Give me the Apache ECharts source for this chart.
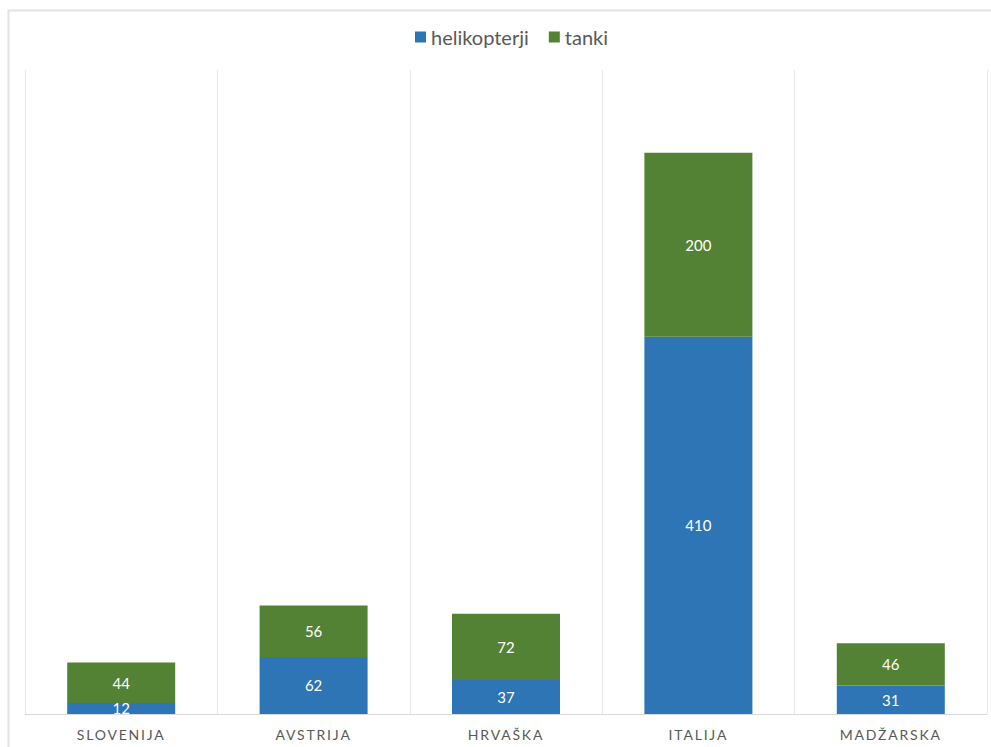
<!DOCTYPE html>
<html><head><meta charset="utf-8">
<script src="https://cdn.jsdelivr.net/npm/echarts@6/dist/echarts.min.js"></script>
<style>
html,body{margin:0;padding:0;background:#fff;}
#c{width:991px;height:747px;}
#c text[fill="#595958"], #c text[fill="rgb(89,89,88)"]{letter-spacing:1.8px;}
</style>
</head><body><div id="c"></div>
<script>
const categories = ['SLOVENIJA', 'AVSTRIJA', 'HRVAŠKA', 'ITALIJA', 'MADŽARSKA'];
const helikopterji = [12, 62, 37, 410, 31];
const tanki = [44, 56, 72, 200, 46];
const seriesNames = ['helikopterji', 'tanki'];

const chart = echarts.init(document.getElementById('c'), null, { renderer: 'svg' });
const font = 'Lato, "Open Sans", sans-serif';
chart.setOption({
  animation: false,
  textStyle: { fontFamily: font },
  graphic: [{
    type: 'rect', silent: true,
    shape: { x: 8.5, y: 10.5, width: 1100, height: 900 },
    style: { fill: 'none', stroke: '#e3e3e3', lineWidth: 2 }
  }],
  legend: {
    top: 22, left: 410,
    itemWidth: 11, itemHeight: 11, itemGap: 20,
    icon: 'rect',
    textStyle: { fontSize: 20, color: '#595959', fontFamily: font },
    data: seriesNames
  },
  grid: { left: 25, right: 4, top: 70, bottom: 33, containLabel: false },
  xAxis: {
    type: 'category', data: categories,
    axisLine: { lineStyle: { color: '#d9d9d9' } },
    axisTick: { show: false },
    axisLabel: { color: '#595958', fontSize: 14, margin: 13, fontFamily: font },
    splitLine: { show: true, lineStyle: { color: '#e6e6e6' } }
  },
  yAxis: { type: 'value', min: 0, max: 700, show: false, splitLine: { show: false } },
  series: [
    {
      name: seriesNames[0], type: 'bar', stack: 'a', data: helikopterji,
      barWidth: 108,
      itemStyle: { color: '#2E75B6' },
      label: { show: true, position: 'inside', color: '#fff', fontSize: 15, fontFamily: font }
    },
    {
      name: seriesNames[1], type: 'bar', stack: 'a', data: tanki,
      barWidth: 108,
      itemStyle: { color: '#548235' },
      label: { show: true, position: 'inside', color: '#fff', fontSize: 15, fontFamily: font }
    }
  ]
});
</script></body></html>
